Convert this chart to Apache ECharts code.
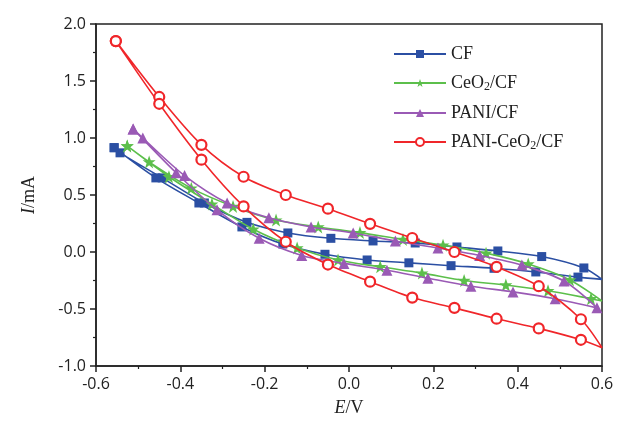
<!DOCTYPE html>
<html>
<head>
<meta charset="utf-8">
<script src="https://cdn.jsdelivr.net/npm/echarts@6/dist/echarts.min.js"></script>
<style>
  html, body { margin: 0; padding: 0; background: #fff; }
  #chart { width: 617px; height: 430px; }
</style>
</head>
<body>
<div id="chart"></div>
<script>
// series names
const names = ['CF', 'CeO2/CF', 'PANI/CF', 'PANI-CeO2/CF'];

// CF (squares)
const cfUpE = [-0.557, -0.543, -0.443, -0.343, -0.242, -0.145, -0.043, 0.057, 0.157, 0.256, 0.353, 0.457, 0.557];
const cfUpI = [0.915, 0.87, 0.65, 0.43, 0.26, 0.167, 0.12, 0.097, 0.079, 0.044, 0.009, -0.04, -0.14];
const cfTurn = [0.6, -0.24];
const cfLowE = [0.543, 0.443, 0.344, 0.242, 0.142, 0.043, -0.057, -0.157, -0.254, -0.356, -0.458, -0.557];
const cfLowI = [-0.22, -0.175, -0.143, -0.12, -0.095, -0.07, -0.02, 0.07, 0.22, 0.43, 0.65, 0.915];

// CeO2/CF (stars)
const ceUpE = [-0.526, -0.474, -0.374, -0.275, -0.173, -0.073, 0.026, 0.128, 0.223, 0.325, 0.425, 0.524];
const ceUpI = [0.93, 0.79, 0.56, 0.40, 0.28, 0.22, 0.17, 0.11, 0.06, -0.01, -0.105, -0.245];
const ceTurn = [0.6, -0.43];
const ceLowE = [0.574, 0.472, 0.372, 0.273, 0.173, 0.074, -0.026, -0.123, -0.227, -0.325, -0.427, -0.526];
const ceLowI = [-0.41, -0.34, -0.29, -0.25, -0.185, -0.13, -0.07, 0.035, 0.20, 0.42, 0.66, 0.93];

// PANI/CF (triangles), turning point carries a marker
const paUpE = [-0.512, -0.489, -0.39, -0.289, -0.19, -0.09, 0.01, 0.11, 0.211, 0.31, 0.41, 0.51, 0.588];
const paUpI = [1.08, 1.0, 0.67, 0.43, 0.30, 0.22, 0.167, 0.097, 0.035, -0.03, -0.115, -0.255, -0.49];
const paTurn = null;
const paLowE = [0.489, 0.389, 0.289, 0.187, 0.09, -0.012, -0.112, -0.213, -0.313, -0.41, -0.512];
const paLowI = [-0.41, -0.35, -0.30, -0.23, -0.16, -0.10, -0.03, 0.12, 0.37, 0.695, 1.08];

// PANI-CeO2/CF (circles)
const pcUpE = [-0.553, -0.45, -0.35, -0.25, -0.15, -0.05, 0.05, 0.15, 0.25, 0.35, 0.45, 0.55];
const pcUpI = [1.85, 1.36, 0.94, 0.66, 0.50, 0.38, 0.247, 0.123, 0.0, -0.13, -0.30, -0.59];
const pcTurn = [0.6, -0.84];
const pcLowE = [0.55, 0.45, 0.35, 0.25, 0.15, 0.05, -0.05, -0.15, -0.25, -0.35, -0.45, -0.553];
const pcLowI = [-0.77, -0.67, -0.585, -0.49, -0.40, -0.26, -0.11, 0.09, 0.40, 0.81, 1.30, 1.85];

const colors = ['#2b4fa3', '#5cbf4b', '#9a5ab5', '#f0262a'];

function loop(upE, upI, turn, lowE, lowI) {
  const pts = upE.map((e, i) => [e, upI[i]]);
  if (turn) pts.push({ value: turn, symbol: 'none' });
  lowE.forEach((e, i) => pts.push([e, lowI[i]]));
  return pts;
}

const loops = [
  loop(cfUpE, cfUpI, cfTurn, cfLowE, cfLowI),
  loop(ceUpE, ceUpI, ceTurn, ceLowE, ceLowI),
  loop(paUpE, paUpI, paTurn, paLowE, paLowI),
  loop(pcUpE, pcUpI, pcTurn, pcLowE, pcLowI)
];

const symbols = [
  { symbol: 'rect', size: 9 },
  { symbol: 'path://M50,0 L62,34 L98,34 L69,56 L80,92 L50,70 L20,92 L31,56 L2,34 L38,34 Z', size: 13 },
  { symbol: 'triangle', size: 11 },
  { symbol: 'circle', size: 10 }
];

const chart = echarts.init(document.getElementById('chart'));

const series = names.map((n, k) => ({
  name: n,
  type: 'line',
  data: loops[k],
  smooth: 0.3,
  symbol: symbols[k].symbol,
  symbolSize: symbols[k].size,
  showAllSymbol: true,
  lineStyle: { color: colors[k], width: 1.6 },
  itemStyle: k === 3
    ? { color: '#fff', borderColor: colors[k], borderWidth: 2.2 }
    : { color: colors[k], borderWidth: 0 },
  emphasis: { disabled: true },
  z: 2 + k
}));

const axisFont = { fontFamily: 'Open Sans', fontSize: 16, color: '#222' };

chart.setOption({
  animation: false,
  color: colors,
  grid: {
    left: 96, right: 15, top: 24, bottom: 64,
    show: true, borderColor: '#222', borderWidth: 1.5
  },
  legend: {
    orient: 'vertical',
    left: 388, top: 40,
    itemWidth: 52, itemHeight: 10, itemGap: 11,
    data: names,
    formatter: n => n.replace('O2', 'O{s|2}'),
    textStyle: {
      fontFamily: 'Liberation Serif', fontSize: 18, color: '#222',
      rich: { s: { fontFamily: 'Liberation Serif', fontSize: 12, verticalAlign: 'bottom', padding: [8, 0, 0, 0], color: '#222' } }
    }
  },
  xAxis: {
    type: 'value', min: -0.6, max: 0.6, interval: 0.2,
    name: '{i|E}/V', nameLocation: 'middle', nameGap: 33,
    nameTextStyle: {
      fontFamily: 'Liberation Serif', fontSize: 18, color: '#222',
      rich: { i: { fontFamily: 'Liberation Serif', fontSize: 18, fontStyle: 'italic', color: '#222' } }
    },
    axisLine: { onZero: false, lineStyle: { color: '#222', width: 1.5 } },
    axisTick: { length: 6, lineStyle: { color: '#222', width: 1.5 } },
    minorTick: { show: true, splitNumber: 2, length: 3, lineStyle: { color: '#222', width: 1.2 } },
    splitLine: { show: false },
    axisLabel: Object.assign({ margin: 10, formatter: v => v.toFixed(1) }, axisFont)
  },
  yAxis: {
    type: 'value', min: -1, max: 2, interval: 0.5,
    name: '{i|I}/mA', nameLocation: 'middle', nameGap: 58, nameRotate: 90,
    nameTextStyle: {
      fontFamily: 'Liberation Serif', fontSize: 18, color: '#222',
      rich: { i: { fontFamily: 'Liberation Serif', fontSize: 18, fontStyle: 'italic', color: '#222' } }
    },
    axisLine: { show: true, onZero: false, lineStyle: { color: '#222', width: 1.5 } },
    axisTick: { show: true, length: 6, lineStyle: { color: '#222', width: 1.5 } },
    minorTick: { show: true, splitNumber: 2, length: 3, lineStyle: { color: '#222', width: 1.2 } },
    splitLine: { show: false },
    axisLabel: Object.assign({ margin: 10, formatter: v => v.toFixed(1) }, axisFont)
  },
  series: series
});
</script>
</body>
</html>
